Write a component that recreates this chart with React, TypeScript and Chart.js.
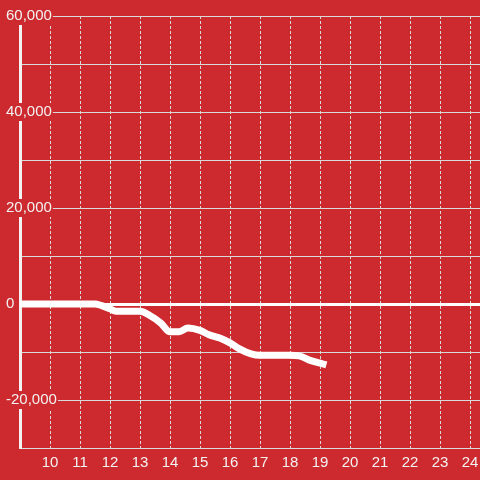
import React, { useEffect, useRef } from "react";
import { Chart, registerables } from "chart.js";

Chart.register(...registerables);

// Hours of the day (x) and running balance (y)
const hours = [9, 11.5, 11.7, 12.0, 12.2, 13.0, 13.3, 13.7, 14.0, 14.3, 14.6, 15.0, 15.3, 15.7, 16.0, 16.3, 16.7, 17.0, 18.0, 18.3, 18.7, 19.1];
const values = [0, 0, -300, -1000, -1500, -1500, -2300, -4000, -5800, -5800, -5000, -5500, -6400, -7200, -8100, -9300, -10400, -10700, -10700, -10800, -11800, -12500];

const xMin = 9;
const xMax = 24 + 1 / 3;
const yMin = -30000;
const yMax = 60000;
const yStep = 10000;
const yLabelStep = 20000;

const BG = "#cd2a2f";
const FONT = { family: "'Liberation Sans', Arial, sans-serif", size: 15 };

export default function App() {
  const ref = useRef<HTMLCanvasElement | null>(null);

  useEffect(() => {
    const canvas = ref.current;
    if (!canvas) return;
    const chart = new Chart(canvas, {
      type: "line",
      data: {
        datasets: [
          {
            data: hours.map((h, i) => ({ x: h, y: values[i] })),
            borderColor: "#ffffff",
            borderWidth: 7,
            borderCapStyle: "square",
            borderJoinStyle: "round",
            pointRadius: 0,
            cubicInterpolationMode: "monotone",
            fill: false,
          },
        ],
      },
      options: {
        animation: false,
        responsive: false,
        devicePixelRatio: 1,
        layout: { padding: { left: 6, top: 16, right: 0, bottom: 0 } },
        plugins: { legend: { display: false }, tooltip: { enabled: false } },
        scales: {
          x: {
            type: "linear",
            min: xMin,
            max: xMax,
            ticks: {
              stepSize: 1,
              includeBounds: false,
              color: "#f2f2f2",
              font: FONT,
              padding: 6,
              maxRotation: 0,
              autoSkip: false,
              callback: (v: any) => (Number(v) === xMin ? "" : String(v)),
            },
            grid: { color: "#d9d9d9", lineWidth: 1, drawTicks: false },
            border: { display: false, dash: [3, 2] },
            afterFit: (s: any) => {
              s.height = 32;
              s.paddingLeft = 0;
              s.paddingRight = 0;
            },
          },
          y: {
            type: "linear",
            min: yMin,
            max: yMax,
            ticks: {
              stepSize: yStep,
              color: "#f2f2f2",
              font: FONT,
              mirror: true,
              crossAlign: "near",
              padding: -14,
              showLabelBackdrop: true,
              backdropColor: BG,
              backdropPadding: { top: 0, bottom: 0, left: 1, right: 1 },
              callback: (v: any) => {
                const n = Number(v);
                return n % yLabelStep === 0 ? n.toLocaleString("en-US") : "";
              },
            },
            grid: {
              color: (ctx: any) => (ctx.tick && ctx.tick.value === 0 ? "#ffffff" : "#d9d9d9"),
              lineWidth: (ctx: any) => (ctx.tick && ctx.tick.value === 0 ? 3 : 1),
              drawTicks: false,
            },
            border: { display: true, color: "#f2f2f2", width: 3 },
            afterFit: (s: any) => {
              s.width = 14;
              s.paddingTop = 0;
              s.paddingBottom = 0;
            },
          },
        },
      },
    } as any);
    return () => chart.destroy();
  }, []);

  return (
    <div style={{ position: "fixed", left: 0, top: 0, width: 480, height: 480, background: BG }}>
      <canvas ref={ref} width={480} height={480} style={{ display: "block" }} />
    </div>
  );
}
